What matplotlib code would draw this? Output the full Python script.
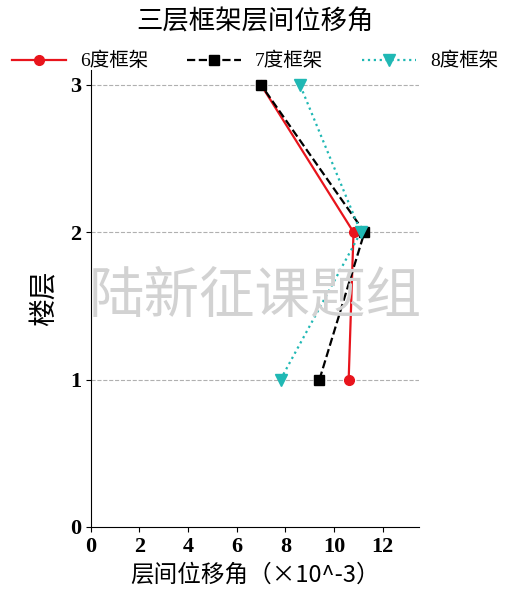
import matplotlib.pyplot as plt

floors = [1, 2, 3]
drift_6 = [10.6, 10.8, 7.0]
drift_7 = [9.4, 11.25, 7.0]
drift_8 = [7.8, 11.1, 8.6]
x_ticks = [0, 2, 4, 6, 8, 10, 12]
y_ticks = [0, 1, 2, 3]

cjk = ['Liberation Serif', 'Noto Sans CJK SC']
plt.rcParams['font.family'] = cjk

fig = plt.figure(figsize=(5.1, 6), dpi=100)
ax = fig.add_axes([0.178, 0.122, 0.644, 0.761])

ax.plot(drift_6, floors, color='#e8141c', lw=1.6, marker='o', ms=7, label='6度框架')
ax.plot(drift_7, floors, color='black', lw=1.6, ls='--', marker='s', ms=7, label='7度框架')
ax.plot(drift_8, floors, color='#20b8b4', lw=1.6, ls=':', marker='v', ms=8, label='8度框架')

ax.set_xlim(0, 13.5)
ax.set_ylim(0, 3.1)
ax.set_xticks(x_ticks)
ax.set_yticks(y_ticks)
for lab in ax.get_xticklabels() + ax.get_yticklabels():
    lab.set_fontfamily('Liberation Serif')
    lab.set_fontweight('bold')
    lab.set_fontsize(16)
for y in floors:
    ax.axhline(y, color='#b0b0b0', ls='--', lw=0.8, zorder=0)
ax.spines['top'].set_visible(False)
ax.spines['right'].set_visible(False)

ax.set_xlabel('层间位移角（×10^-3）', fontsize=17, labelpad=5,
              family=['Noto Sans CJK SC', 'DejaVu Sans'], weight='light')
ax.set_ylabel('楼层', fontsize=20, labelpad=8)
fig.text(0.5, 0.963, '三层框架层间位移角', ha='center', va='center', fontsize=19,
         weight='light')
fig.text(0.5, 0.505, '陆新征课题组', ha='center', va='center', fontsize=40,
         color='#d2d2d2', weight='light', family=['Noto Sans CJK SC'])

fig.legend(loc='center', bbox_to_anchor=(0.5, 0.898), ncol=3, frameon=False,
           fontsize=14, columnspacing=2.0, handlelength=2.8, handletextpad=0.7,
           borderaxespad=0)

fig.savefig('out.png', dpi=100)
